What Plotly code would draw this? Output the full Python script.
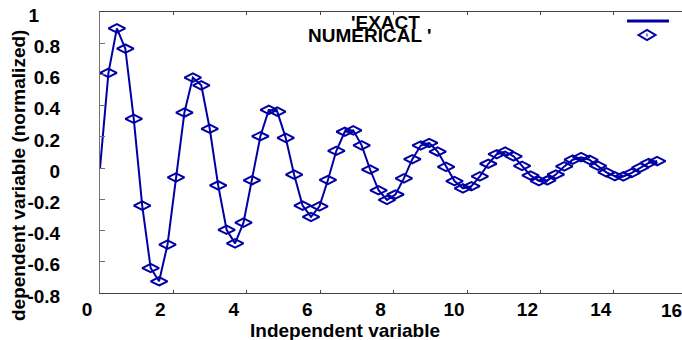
import plotly.graph_objects as go

# ---- data ----
x_numerical = [0.23, 0.46, 0.69, 0.92, 1.15, 1.38, 1.61, 1.84, 2.07, 2.30,
               2.53, 2.76, 2.99, 3.22, 3.45, 3.68, 3.91, 4.14, 4.37, 4.60,
               4.83, 5.06, 5.29, 5.52, 5.75, 5.98, 6.21, 6.44, 6.67, 6.90,
               7.13, 7.36, 7.59, 7.82, 8.05, 8.28, 8.51, 8.74, 8.97, 9.20,
               9.43, 9.66, 9.89, 10.12, 10.35, 10.58, 10.81, 11.04, 11.27, 11.50,
               11.73, 11.96, 12.19, 12.42, 12.65, 12.88, 13.11, 13.34, 13.57, 13.80,
               14.03, 14.26, 14.49, 14.72, 14.95, 15.18]
y_numerical = [0.610, 0.895, 0.765, 0.316, -0.240, -0.640, -0.725, -0.490, -0.060, 0.356,
               0.580, 0.530, 0.252, -0.111, -0.395, -0.482, -0.349, -0.078, 0.204, 0.373,
               0.362, 0.194, -0.042, -0.240, -0.313, -0.245, -0.076, 0.111, 0.233, 0.242,
               0.146, -0.009, -0.142, -0.204, -0.169, -0.066, 0.057, 0.145, 0.161, 0.106,
               0.008, -0.083, -0.130, -0.116, -0.053, 0.028, 0.089, 0.106, 0.075, 0.014,
               -0.047, -0.083, -0.079, -0.041, 0.011, 0.054, 0.070, 0.053, 0.015, -0.027,
               -0.052, -0.053, -0.031, 0.003, 0.033, 0.045]
x_exact = [0.0] + x_numerical
y_exact = [0.0] + y_numerical

x_tickvals = [0, 2, 4, 6, 8, 10, 12, 14]
x_ticktext = ["0", "2", "4", "6", "8", "10", "12", "14"]
y_tickvals = [-0.8, -0.6, -0.4, -0.2, 0, 0.2, 0.4, 0.6, 0.8, 1.0]
y_ticktext = ["-0.8", "-0.6", "-0.4", "-0.2", "0", "0.2", "0.4", "0.6", "0.8",
              "1\u00a0\u00a0\u00a0\u00a0"]

legend_exact = "'EXACT"
legend_numerical = "NUMERICAL '"
x_title = "Independent variable"
y_title = "dependent variable (normalized)"

# ---- styling ----
BLUE = "#0000a4"
GRAY = "#707070"
FONT = dict(family="Liberation Sans, Arial, sans-serif", size=19, color="black", weight="bold")

W, H = 682, 340
# plot area in pixels
PL, PT, PR, PB = 100, 12, 682, 293
PW, PH = PR - PL, PB - PT
L, T, R, B = PL, PT, W - PR, H - PB
PX_PER_UNIT = 36.7
x_max = PW / PX_PER_UNIT


def px(xp):
    return (xp - PL) / PW


def py(yp):
    return (PB - yp) / PH


fig = go.Figure()
fig.add_trace(go.Scatter(x=x_exact, y=y_exact, mode="lines",
                         line=dict(color=BLUE, width=2), name="EXACT", showlegend=False))
fig.add_trace(go.Scatter(x=x_numerical, y=y_numerical, mode="markers",
                         marker=dict(symbol="diamond-wide-open", size=12,
                                     color=BLUE, line=dict(color=BLUE, width=2)),
                         name="NUMERICAL", showlegend=False))

fig.update_layout(
    width=W, height=H,
    margin=dict(l=L, r=R, t=T, b=B, pad=0),
    plot_bgcolor="white", paper_bgcolor="white",
    showlegend=False,
    xaxis=dict(range=[0, x_max], tickvals=x_tickvals, ticktext=x_ticktext,
               ticks="inside", ticklen=3, tickcolor="#444", tickwidth=1,
               showline=True, linecolor="#444", linewidth=1, mirror="ticks",
               showgrid=False, zeroline=False, tickfont=FONT,
               ticklabelshift=-13, ticklabelstandoff=-1, ticklabeloverflow="allow"),
    yaxis=dict(range=[-0.8, 1.0], tickvals=y_tickvals, ticktext=y_ticktext,
               ticks="inside", ticklen=5, tickcolor=GRAY, tickwidth=1,
               showline=True, linecolor=GRAY, linewidth=1,
               showgrid=False, zeroline=False, tickfont=FONT,
               ticklabelstandoff=35, ticklabelshift=3, ticklabeloverflow="allow"),
)

annotations = [
    dict(text=legend_exact, x=px(385), y=py(22), xref="paper", yref="paper",
         showarrow=False, font=FONT, xanchor="center", yanchor="middle"),
    dict(text=legend_numerical, x=px(369), y=py(35.5), xref="paper", yref="paper",
         showarrow=False, font=FONT, xanchor="center", yanchor="middle"),
    dict(text=x_title, x=px(344.5), y=py(330), xref="paper", yref="paper",
         showarrow=False, font=FONT, xanchor="center", yanchor="middle"),
    dict(text=y_title, x=px(18), y=py(176), xref="paper", yref="paper",
         showarrow=False, font=FONT, xanchor="center", yanchor="middle", textangle=-90),
    dict(text="16", x=px(671), y=py(310), xref="paper", yref="paper",
         showarrow=False, font=FONT, xanchor="center", yanchor="middle"),
]
fig.update_layout(annotations=annotations)

# legend key (line sample and diamond sample)
cx, cy, hw, hh = 647, 35, 8.5, 5
shapes = [
    dict(type="line", xref="paper", yref="paper", x0=px(627), x1=px(669),
         y0=py(21), y1=py(21), line=dict(color=BLUE, width=3)),
    dict(type="path", xref="paper", yref="paper",
         path=(f"M {px(cx - hw)} {py(cy)} L {px(cx)} {py(cy - hh)} "
               f"L {px(cx + hw)} {py(cy)} L {px(cx)} {py(cy + hh)} Z"),
         line=dict(color=BLUE, width=2)),
    dict(type="line", xref="paper", yref="paper", x0=px(cx), x1=px(cx),
         y0=py(33.5), y1=py(36.5), line=dict(color=BLUE, width=1)),
]
fig.update_layout(shapes=shapes)

# remove the default 8px page margin so the figure fills the window exactly
fig.write_html("out.html",
               config={"displayModeBar": False},
               post_script="document.body.style.margin='0';document.body.style.overflow='hidden';")
